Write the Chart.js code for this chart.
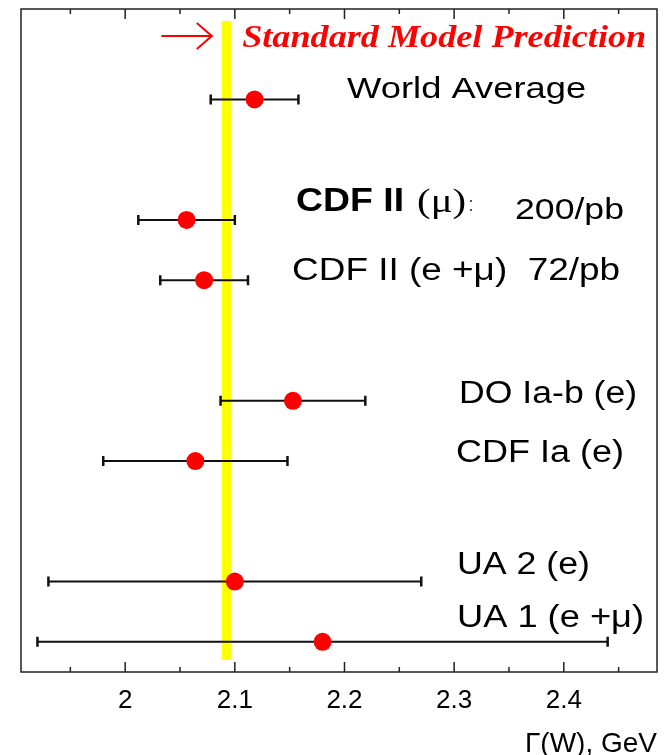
<!DOCTYPE html>
<html>
<head>
<meta charset="utf-8">
<script src="https://cdn.jsdelivr.net/npm/chart.js@4.4.1/dist/chart.umd.min.js"></script>
<style>
  html, body { margin: 0; padding: 0; background: #fff; }
  canvas { display: block; }
</style>
</head>
<body>
<canvas id="widthchart" width="668" height="755"></canvas>
<script>
const categories = ['World Average', 'CDF II (μ): 200/pb', 'CDF II (e +μ)  72/pb', 'DO Ia-b (e)', 'CDF Ia (e)', 'UA 2 (e)', 'UA 1 (e +μ)'];
const widths = [2.118, 2.056, 2.072, 2.153, 2.064, 2.10, 2.18];
const errors = [0.040, 0.044, 0.040, 0.066, 0.084, 0.17, 0.26];
const rows = [1.5, 3.5, 4.5, 6.5, 7.5, 9.5, 10.5];
const tickValues = [2, 2.1, 2.2, 2.3, 2.4];
const tickLabels = ['2', '2.1', '2.2', '2.3', '2.4'];
const minorTicks = [1.95, 2.05, 2.15, 2.25, 2.35, 2.45];
const smBand = [2.088, 2.097];
const smRows = [0.2, 10.8];

const sans = '"Liberation Sans", Arial, sans-serif';
const serif = '"Liberation Serif", "Times New Roman", serif';

// text anchored in data units: x = left edge, row = baseline, width = drawn width in px
const annotations = [
  { text: 'World Average', x: 2.2024, row: 1.47, font: `30px ${sans}`, width: 239 },
  { text: 'CDF II', x: 2.1559, row: 3.353, font: `bold 34px ${sans}`, width: 108 },
  { text: '(μ)', x: 2.2662, row: 3.37, font: `34px ${serif}`, width: 49 },
  { text: ':', x: 2.3136, row: 3.35, font: `20px ${sans}`, width: 4 },
  { text: '200/pb', x: 2.3555, row: 3.485, font: `30px ${sans}`, width: 109 },
  { text: 'CDF II (e +μ)  72/pb', x: 2.1522, row: 4.49, font: `31px ${sans}`, width: 328 },
  { text: 'DO Ia-b (e)', x: 2.3045, row: 6.53, font: `31px ${sans}`, width: 178 },
  { text: 'CDF Ia (e)', x: 2.3017, row: 7.515, font: `31px ${sans}`, width: 168 },
  { text: 'UA 2 (e)', x: 2.3026, row: 9.38, font: `31px ${sans}`, width: 133 },
  { text: 'UA 1 (e +μ)', x: 2.3026, row: 10.26, font: `31px ${sans}`, width: 187 },
];

const drawStretched = (ctx, text, px, py, font, width, color) => {
  ctx.save();
  ctx.font = font;
  ctx.fillStyle = color;
  ctx.textAlign = 'left';
  ctx.textBaseline = 'alphabetic';
  const w = ctx.measureText(text).width;
  ctx.translate(px, py);
  ctx.scale(width / w, 1);
  ctx.fillText(text, 0, 0);
  ctx.restore();
};

const widthPlot = {
  id: 'widthPlot',
  beforeDatasetsDraw(chart) {
    const { ctx, scales: { x, y } } = chart;
    ctx.save();
    // standard model band
    const bx0 = x.getPixelForValue(smBand[0]);
    const bx1 = x.getPixelForValue(smBand[1]);
    const by0 = y.getPixelForValue(smRows[0]);
    const by1 = y.getPixelForValue(smRows[1]);
    ctx.fillStyle = '#ffff00';
    ctx.fillRect(bx0, by0, bx1 - bx0, by1 - by0);

    // error bars
    ctx.strokeStyle = '#111';
    widths.forEach((v, i) => {
      const x0 = x.getPixelForValue(v - errors[i]);
      const x1 = x.getPixelForValue(v + errors[i]);
      const py = y.getPixelForValue(rows[i]);
      ctx.lineWidth = 2;
      ctx.beginPath();
      ctx.moveTo(x0, py);
      ctx.lineTo(x1, py);
      ctx.stroke();
      ctx.lineWidth = 2.5;
      ctx.beginPath();
      ctx.moveTo(x0, py - 5);
      ctx.lineTo(x0, py + 5);
      ctx.moveTo(x1, py - 5);
      ctx.lineTo(x1, py + 5);
      ctx.stroke();
    });
    ctx.restore();
  },
  afterDraw(chart) {
    const { ctx, chartArea: a, scales: { x, y } } = chart;
    ctx.save();
    ctx.strokeStyle = '#222';
    ctx.lineWidth = 1.5;
    ctx.strokeRect(a.left, a.top, a.right - a.left, a.bottom - a.top);

    // inward ticks on top and bottom
    const tick = (v, len) => {
      const px = x.getPixelForValue(v);
      ctx.beginPath();
      ctx.moveTo(px, a.bottom);
      ctx.lineTo(px, a.bottom - len);
      ctx.moveTo(px, a.top);
      ctx.lineTo(px, a.top + len);
      ctx.stroke();
    };
    tickValues.forEach(v => tick(v, 10));
    minorTicks.forEach(v => tick(v, 5));

    // arrow + SM label
    const ay = y.getPixelForValue(0.446);
    const ax0 = x.getPixelForValue(2.033);
    const ax1 = x.getPixelForValue(2.079);
    ctx.strokeStyle = '#ff0000';
    ctx.lineWidth = 2;
    ctx.beginPath();
    ctx.moveTo(ax0, ay);
    ctx.lineTo(ax1, ay);
    ctx.moveTo(ax1 - 15, ay - 13);
    ctx.lineTo(ax1, ay);
    ctx.lineTo(ax1 - 15, ay + 13);
    ctx.stroke();
    drawStretched(ctx, 'Standard Model Prediction', x.getPixelForValue(2.1067), y.getPixelForValue(0.63),
      `italic bold 32px ${serif}`, 404, '#ff0000');

    annotations.forEach(t => {
      drawStretched(ctx, t.text, x.getPixelForValue(t.x), y.getPixelForValue(t.row), t.font, t.width, '#000');
    });
    ctx.restore();
  }
};

const ctx = document.getElementById('widthchart').getContext('2d');
new Chart(ctx, {
  type: 'scatter',
  data: {
    datasets: [{
      label: 'Γ(W)',
      data: widths.map((v, i) => ({ x: v, y: rows[i] })),
      backgroundColor: '#ff0000',
      borderWidth: 0,
      pointRadius: 9,
      pointHoverRadius: 9,
    }],
  },
  options: {
    responsive: false,
    animation: false,
    devicePixelRatio: 1,
    layout: { padding: { left: 21, right: 11, top: 6, bottom: 0 } },
    plugins: { legend: { display: false }, tooltip: { enabled: false } },
    scales: {
      x: {
        type: 'linear',
        min: 1.905,
        max: 2.485,
        grid: { display: false, drawTicks: false },
        border: { display: false },
        afterBuildTicks: (axis) => { axis.ticks = tickValues.map(v => ({ value: v })); },
        afterFit: (axis) => { axis.height = 83; },
        ticks: {
          padding: 13,
          color: '#000',
          font: { family: sans, size: 26 },
          callback: (value) => tickLabels[tickValues.indexOf(value)] ?? '',
        },
        title: {
          display: true,
          text: 'Γ(W), GeV',
          align: 'end',
          color: '#000',
          font: { family: sans, size: 28, lineHeight: 0.75 },
          padding: { top: 0, bottom: 0 },
        },
      },
      y: {
        type: 'linear',
        display: false,
        min: 0,
        max: 11,
        reverse: true,
      },
    },
  },
  plugins: [widthPlot],
});
</script>
</body>
</html>
